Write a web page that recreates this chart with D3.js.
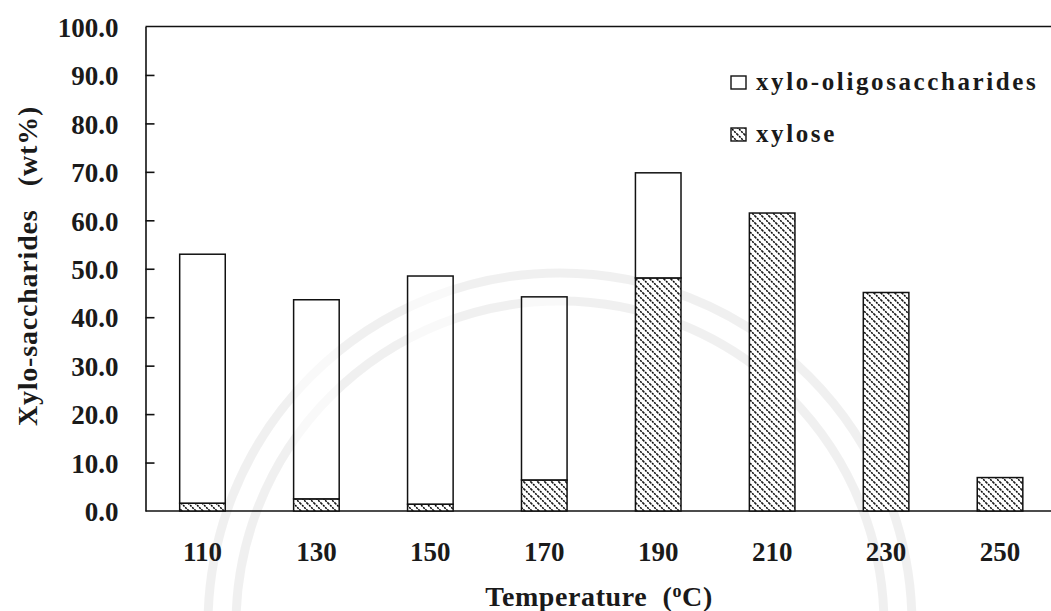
<!DOCTYPE html>
<html>
<head>
<meta charset="utf-8">
<title>Xylo-saccharides vs temperature</title>
<style>
  html, body {margin: 0; padding: 0; background: #fff; overflow: hidden;}
  text {font-family: "Liberation Serif", "Times New Roman", serif; font-weight: bold; fill: #1a1a1a;}
  .axis path, .axis line {stroke: #111; stroke-width: 1.6;}
</style>
</head>
<body>
<div id="chart"></div>
<script src="https://cdn.jsdelivr.net/npm/d3@7"></script>
<script>
// values
var temps = ["110", "130", "150", "170", "190", "210", "230", "250"];
var xylose = [1.6, 2.5, 1.4, 6.4, 48.1, 61.5, 45.1, 6.9];
var xos = [51.4, 41.1, 47.1, 37.8, 21.7, 0, 0, 0];
var yTicks = [0, 10, 20, 30, 40, 50, 60, 70, 80, 90, 100];
var seriesKeys = ["xylose", "xos"];
var legendLabels = ["xylo-oligosaccharides", "xylose"];

var width = 1051, height = 611;
var plotLeft = 145.5, plotRight = 1057, plotTop = 26.5, plotBottom = 511;

var svg = d3.select("#chart").append("svg")
    .attr("width", width)
    .attr("height", height);

var defs = svg.append("defs");
var pat = defs.append("pattern")
    .attr("id", "hatch")
    .attr("patternUnits", "userSpaceOnUse")
    .attr("width", 7)
    .attr("height", 7);
pat.append("rect").attr("width", 7).attr("height", 7).attr("fill", "#fff");
pat.append("path")
    .attr("d", "M-1,-1 L8,8 M-1,6 L1,8 M6,-1 L8,1")
    .attr("stroke", "#000")
    .attr("stroke-width", 1.5)
    .attr("stroke-dasharray", "2,1");

var rows = temps.map(function(t, i) {
    return {temp: t, xylose: xylose[i], xos: xos[i]};
});

var x = d3.scaleBand()
    .domain(temps)
    .range([plotLeft, plotRight])
    .paddingInner(0.6)
    .paddingOuter(0.3);

var y = d3.scaleLinear()
    .domain([0, 100])
    .range([plotBottom, plotTop]);

var stacked = d3.stack().keys(seriesKeys)(rows);

// faint watermark arcs (drawn under the bars)
var wm = svg.append("g")
    .attr("fill", "none")
    .attr("stroke", "#000")
    .attr("stroke-opacity", 0.06)
    .attr("stroke-width", 9);
wm.append("circle").attr("cx", 560).attr("cy", 625).attr("r", 352);
wm.append("circle").attr("cx", 560).attr("cy", 625).attr("r", 324);

// frame (top and bottom lines)
svg.append("line")
    .attr("x1", plotLeft).attr("x2", plotRight)
    .attr("y1", y(100)).attr("y2", y(100))
    .attr("stroke", "#111").attr("stroke-width", 1.6);
svg.append("line")
    .attr("x1", plotLeft).attr("x2", plotRight)
    .attr("y1", y(0)).attr("y2", y(0))
    .attr("stroke", "#111").attr("stroke-width", 1.6);

// bars
var layer = svg.selectAll(".layer")
    .data(stacked)
  .enter().append("g")
    .attr("class", "layer")
    .attr("fill", function(d) { return d.key == "xylose" ? "url(#hatch)" : "rgba(255,255,255,0.6)"; });

layer.selectAll("rect")
    .data(function(d) { return d.filter(function(p) { return p[1] - p[0] > 0; }); })
  .enter().append("rect")
    .attr("x", function(d) { return x(d.data.temp); })
    .attr("y", function(d) { return y(d[1]); })
    .attr("width", x.bandwidth())
    .attr("height", function(d) { return y(d[0]) - y(d[1]); })
    .attr("stroke", "#111")
    .attr("stroke-width", 1.5);

// y axis
var yAxis = svg.append("g")
    .attr("class", "axis")
    .attr("transform", "translate(" + plotLeft + ",0)")
    .call(d3.axisLeft(y)
        .tickValues(yTicks)
        .tickFormat(d3.format(".1f"))
        .tickSizeInner(-9)
        .tickSizeOuter(0)
        .tickPadding(27));
yAxis.selectAll("text")
    .style("font-size", "27px")
    .attr("dy", "0.36em");
yAxis.selectAll(".tick").filter(function(d) { return d == 0 || d == 100; })
    .select("line").remove();

// x labels
svg.append("g")
    .selectAll("text")
    .data(temps)
  .enter().append("text")
    .attr("x", function(d) { return x(d) + x.bandwidth() / 2; })
    .attr("y", 561)
    .attr("text-anchor", "middle")
    .style("font-size", "27px")
    .text(function(d) { return d; });

// axis titles
svg.append("text")
    .attr("transform", "translate(37,266) rotate(-90)")
    .attr("text-anchor", "middle")
    .style("font-size", "28px")
    .style("letter-spacing", "0.8px")
    .style("white-space", "pre")
    .text("Xylo-saccharides   (wt%)");

var xt = svg.append("text")
    .attr("x", 599)
    .attr("y", 606)
    .attr("text-anchor", "middle")
    .style("font-size", "28px")
    .style("letter-spacing", "0.6px")
    .style("white-space", "pre");
xt.append("tspan").text("Temperature  (");
xt.append("tspan").attr("dy", -9).style("font-size", "18px").text("o");
xt.append("tspan").attr("dy", 9).text("C)");

// legend
var legend = svg.append("g")
    .selectAll("g")
    .data(legendLabels)
  .enter().append("g")
    .attr("transform", function(d, i) { return "translate(731," + (76 + i * 52) + ")"; });

legend.append("rect")
    .attr("width", 15)
    .attr("height", 13)
    .attr("fill", function(d, i) { return i == 1 ? "url(#hatch)" : "#fff"; })
    .attr("stroke", "#111")
    .attr("stroke-width", 1.4);

legend.append("text")
    .attr("x", 25)
    .attr("y", 14)
    .style("font-size", "25px")
    .style("letter-spacing", "2.6px")
    .text(function(d) { return d; });
</script>
</body>
</html>
